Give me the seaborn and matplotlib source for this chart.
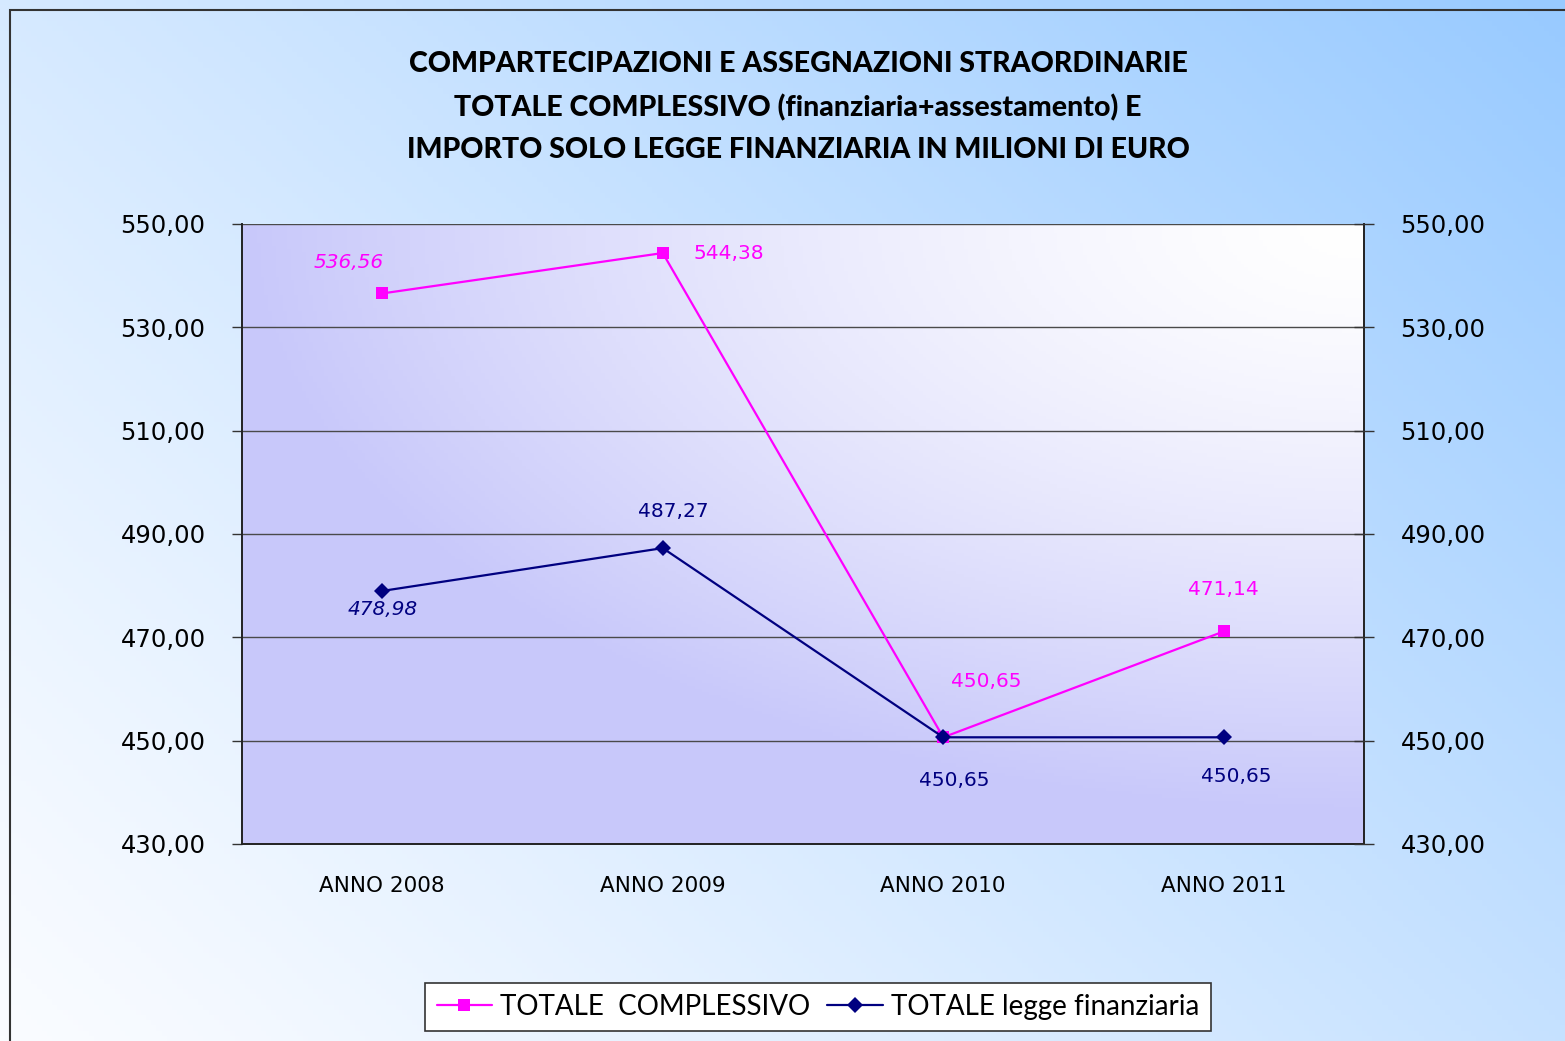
import numpy as np
import pandas as pd
import matplotlib
matplotlib.use("Agg")
import matplotlib.pyplot as plt
import seaborn as sns
from matplotlib.patches import Rectangle
from matplotlib.lines import Line2D

categories = ["ANNO 2008", "ANNO 2009", "ANNO 2010", "ANNO 2011"]
totale_complessivo = [536.56, 544.38, 450.65, 471.14]
totale_finanziaria = [478.98, 487.27, 450.65, 450.65]
series_names = ["TOTALE  COMPLESSIVO", "TOTALE legge finanziaria"]
y_ticks = [430, 450, 470, 490, 510, 530, 550]
title = ("COMPARTECIPAZIONI E ASSEGNAZIONI STRAORDINARIE\n"
         "TOTALE COMPLESSIVO (finanziaria+assestamento) E\n"
         "IMPORTO SOLO LEGGE FINANZIARIA IN MILIONI DI EURO")

def fmt(v):
    return f"{v:.2f}".replace(".", ",")

sns.set_theme(style="white")
plt.rcParams["font.family"] = ["DejaVu Sans"]
plt.rcParams["text.color"] = "black"
plt.rcParams["xtick.color"] = "black"
plt.rcParams["ytick.color"] = "black"

W, H = 1565, 1041
fig = plt.figure(figsize=(W / 100, H / 100), dpi=100)

# figure background gradient
bg = fig.add_axes([0, 0, 1, 1], zorder=-10)
gx, gy = np.meshgrid(np.linspace(0, 1, 300), np.linspace(0, 1, 200))
t = np.clip(0.58 * gx + 0.42 * gy, 0, 1) ** 1.15
c0 = np.array([250, 252, 255]) / 255
c1 = np.array([152, 202, 255]) / 255
img = c0[None, None, :] * (1 - t[..., None]) + c1[None, None, :] * t[..., None]
bg.imshow(img, origin="lower", extent=[0, 1, 0, 1], aspect="auto")
bg.set_xlim(0, 1); bg.set_ylim(0, 1)
bg.axis("off")
bg.add_patch(Rectangle((10 / W, -0.1), 1.2, 1.1 - 10 / H, fill=False,
                       edgecolor="#333333", linewidth=1.5))

ax = fig.add_axes([242 / W, 1 - 844 / H, (1364 - 242) / W, (844 - 224) / H])
ax.patch.set_alpha(0)

# plot area gradient (white at top-right, lavender elsewhere)
px, py = np.meshgrid(np.linspace(0, 1, 300), np.linspace(0, 1, 200))
d = np.sqrt((1 - px) ** 2 + ((1 - py) * 1.05) ** 2)
s = np.clip(d / 1.0, 0, 1) ** 1.4
w = np.array([255, 255, 255]) / 255
lav = np.array([200, 200, 250]) / 255
pimg = w[None, None, :] * (1 - s[..., None]) + lav[None, None, :] * s[..., None]
ax.imshow(pimg, origin="lower", extent=[0, 1, 0, 1], aspect="auto",
          transform=ax.transAxes, zorder=0)

df = pd.DataFrame({
    "cat": categories * 2,
    "val": totale_complessivo + totale_finanziaria,
    "serie": [series_names[0]] * 4 + [series_names[1]] * 4,
})
sns.lineplot(data=df[df.serie == series_names[0]], x="cat", y="val",
             color="#FF00FF", marker="s", markersize=9, markeredgewidth=0,
             linewidth=1.6, ax=ax, zorder=3, legend=False)
sns.lineplot(data=df[df.serie == series_names[1]], x="cat", y="val",
             color="#000080", marker="D", markersize=8, markeredgewidth=0,
             linewidth=1.6, ax=ax, zorder=4, legend=False)

ax.set_xlim(-0.5, 3.5)
ax.set_ylim(430, 550)
ax.set_yticks(y_ticks)
ax.set_yticklabels([fmt(v) for v in y_ticks], fontsize=17.5)
ax.set_xticks(range(len(categories)))
ax.set_xticklabels(categories, fontsize=15.5)
ax.set_xticks([-0.5, 0.5, 1.5, 2.5, 3.5], minor=True)
ax.tick_params(axis="x", which="major", length=0, pad=23)
ax.tick_params(axis="x", which="minor", length=7, direction="in", width=1, color="#333333")
ax.tick_params(axis="y", which="major", length=7.2, direction="out", width=1, color="#333333", pad=19)
ax.set_xlabel(""); ax.set_ylabel("")
for yv in y_ticks[1:]:
    ax.axhline(yv, color="#4a4a4a", linewidth=1.0, zorder=1)
for sp in ["left", "bottom", "right"]:
    ax.spines[sp].set_visible(True)
    ax.spines[sp].set_color("#222222")
    ax.spines[sp].set_linewidth(1.4)
ax.spines["top"].set_visible(False)

ax2 = ax.twinx()
ax2.set_ylim(430, 550)
ax2.set_yticks(y_ticks)
ax2.set_yticklabels([fmt(v) for v in y_ticks], fontsize=17.5)
ax2.tick_params(axis="y", length=14.4, direction="inout", width=1, color="#333333", pad=19)
for sp in ax2.spines.values():
    sp.set_visible(False)
ax2.grid(False)

# data labels
mag_off = [(-34, 31, "italic"), (66, 0, "normal"), (43, 56, "normal"), (0, 42, "normal")]
nav_off = [(0, -19, "italic"), (11, 37, "normal"), (11, -43, "normal"), (13, -39, "normal")]
for i, v in enumerate(totale_complessivo):
    dx, dy, st = mag_off[i]
    ax.annotate(fmt(v), (i, v), xytext=(dx, dy), textcoords="offset pixels",
                ha="center", va="center", color="#FF00FF", fontsize=14.5, style=st, zorder=5)
for i, v in enumerate(totale_finanziaria):
    dx, dy, st = nav_off[i]
    ax.annotate(fmt(v), (i, v), xytext=(dx, dy), textcoords="offset pixels",
                ha="center", va="center", color="#000080", fontsize=14.5, style=st, zorder=5)

fig.text(798 / W, 1 - 107 / H, title, ha="center", va="center", fontsize=20.5,
         fontweight="black", color="black", family=["Lato", "DejaVu Sans"], linespacing=1.78)

handles = [
    Line2D([], [], color="#FF00FF", marker="s", markersize=9, markeredgewidth=0, linewidth=1.6),
    Line2D([], [], color="#000080", marker="D", markersize=8, markeredgewidth=0, linewidth=1.6),
]
leg = fig.legend(handles, series_names, loc="center", bbox_to_anchor=(818 / W, 1 - 1007 / H),
                 ncol=2, frameon=True, fancybox=False, framealpha=1, edgecolor="#333333",
                 prop={"family": ["Lato", "DejaVu Sans"], "size": 20},
                 handlelength=2.0, handletextpad=0.3, columnspacing=0.6,
                 borderpad=0.4)
leg.get_frame().set_linewidth(1.2)

fig.savefig("out.png", dpi=100)
